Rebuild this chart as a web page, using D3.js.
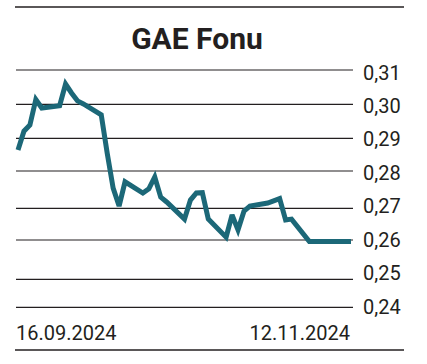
<!DOCTYPE html>
<html>
<head>
<meta charset="utf-8">
<script src="https://cdn.jsdelivr.net/npm/d3@7"></script>
<style>
  body { margin: 0; background: #fff; }
  text { font-family: Roboto, "Liberation Sans", sans-serif; fill: #231f20; }
</style>
</head>
<body>
<svg id="chart" width="427" height="364"></svg>
<script>
const title = "GAE Fonu";

// business days, 16.09.2024 - 11.11.2024 (29.10 holiday)
const dates = [
  "2024-09-16","2024-09-17","2024-09-18","2024-09-19","2024-09-20",
  "2024-09-23","2024-09-24","2024-09-25","2024-09-26","2024-09-27",
  "2024-09-30","2024-10-01","2024-10-02","2024-10-03","2024-10-04",
  "2024-10-07","2024-10-08","2024-10-09","2024-10-10","2024-10-11",
  "2024-10-14","2024-10-15","2024-10-16","2024-10-17","2024-10-18",
  "2024-10-21","2024-10-22","2024-10-23","2024-10-24","2024-10-25",
  "2024-10-28","2024-10-30","2024-10-31","2024-11-01",
  "2024-11-04","2024-11-05","2024-11-06","2024-11-07","2024-11-08",
  "2024-11-11"
];
const prices = [
  0.2864, 0.2921, 0.2939, 0.3014, 0.2989,
  0.2996, 0.3059, 0.3033, 0.3010, 0.3001,
  0.2969, 0.2855, 0.2754, 0.2706, 0.2771,
  0.2741, 0.2752, 0.2784, 0.2730, 0.2717,
  0.2666, 0.2722, 0.2741, 0.2742, 0.2666,
  0.2609, 0.2679, 0.2632, 0.2691, 0.2706,
  0.2714, 0.2726, 0.2663, 0.2666,
  0.2596, 0.2596, 0.2596, 0.2596, 0.2596,
  0.2596
];

const yTicks = [0.24, 0.25, 0.26, 0.27, 0.28, 0.29, 0.30, 0.31];
const xLabels = ["16.09.2024", "12.11.2024"];

const svg = d3.select("#chart");
const parse = d3.timeParse("%Y-%m-%d");
const data = dates.map((d, i) => ({ date: parse(d), value: prices[i] }));

const x = d3.scaleTime()
  .domain(d3.extent(data, d => d.date))
  .range([18, 351]);

// grid lines in the source are not evenly spaced
const y = d3.scaleLinear()
  .domain(yTicks)
  .range([307.3, 279.3, 240, 208.3, 171, 138.3, 104.3, 70]);

const yLabel = d3.scaleLinear()
  .domain([0.24, 0.31])
  .range([306.5, 72.5]);

// rules
svg.append("line")
  .attr("x1", 15).attr("x2", 404).attr("y1", 7).attr("y2", 7)
  .attr("stroke", "#231f20").attr("stroke-width", 1.3);
svg.append("line")
  .attr("x1", 15).attr("x2", 404).attr("y1", 350).attr("y2", 350)
  .attr("stroke", "#231f20").attr("stroke-width", 1.3);

svg.append("text")
  .attr("x", 197).attr("y", 49)
  .attr("text-anchor", "middle")
  .attr("font-size", 30).attr("font-weight", 700)
  .text(title);

// grid
svg.append("g").selectAll("line")
  .data(yTicks)
  .join("line")
  .attr("x1", 16).attr("x2", 353)
  .attr("y1", d => y(d)).attr("y2", d => y(d))
  .attr("stroke", "#231f20").attr("stroke-width", 1.2);

svg.append("g").selectAll("text")
  .data(yTicks)
  .join("text")
  .attr("x", 363)
  .attr("y", d => yLabel(d) + 7)
  .attr("font-size", 20)
  .text(d => d3.format(".2f")(d).replace(".", ","));

// line
const line = d3.line()
  .x(d => x(d.date))
  .y(d => y(d.value));

svg.append("path")
  .datum(data)
  .attr("d", line)
  .attr("fill", "none")
  .attr("stroke", "#1c6878")
  .attr("stroke-width", 5)
  .attr("stroke-linejoin", "miter")
  .attr("stroke-miterlimit", 3);

// date labels
svg.append("text")
  .attr("x", 16).attr("y", 340)
  .attr("font-size", 20)
  .text(xLabels[0]);
svg.append("text")
  .attr("x", 350).attr("y", 340)
  .attr("text-anchor", "end")
  .attr("font-size", 20)
  .text(xLabels[1]);
</script>
</body>
</html>
